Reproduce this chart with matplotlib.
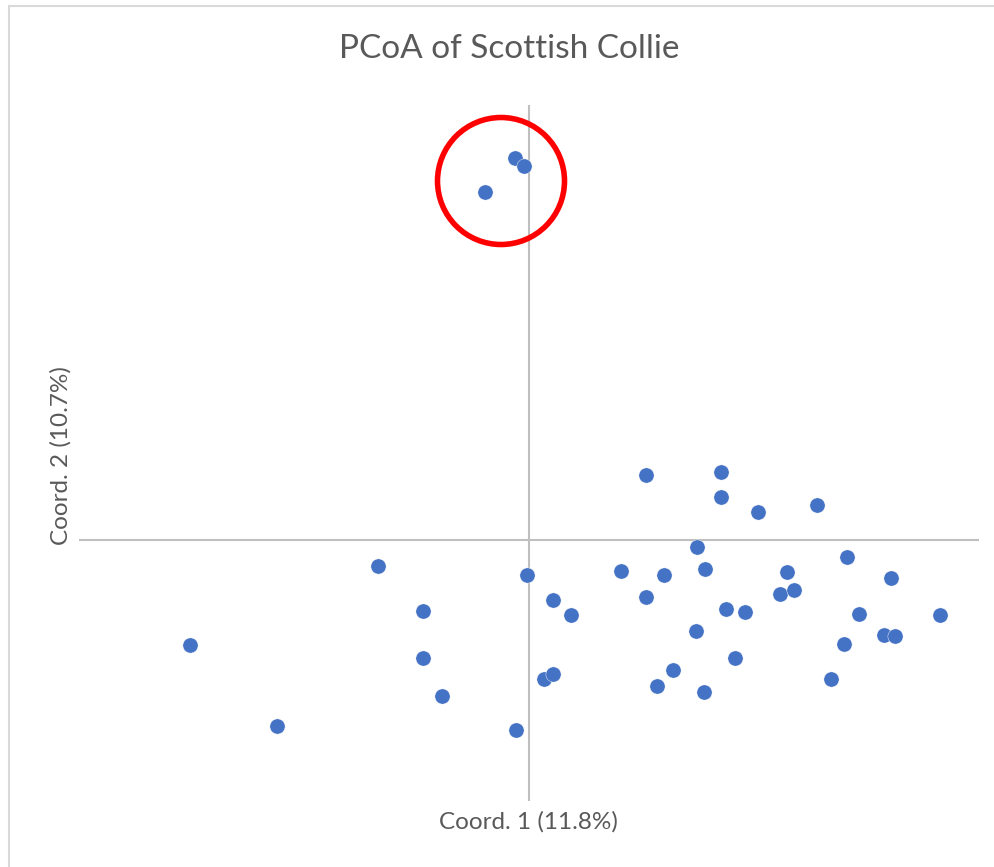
import matplotlib.pyplot as plt
from matplotlib.patches import Ellipse, Rectangle

# PCoA coordinates
coord1 = [-0.14, -0.05, -0.44, -3.39, -2.52, -1.51, -1.06, -1.06, -0.87, -0.13,
          -0.02, 0.24, 0.15, 0.24, 0.42, 1.17, 1.92, 1.92, 2.29, 2.88,
          1.68, 0.92, 1.35, 1.76, 1.17, 2.58, 3.18, 3.62, 2.51, 2.65,
          1.97, 2.16, 3.30, 4.11, 1.67, 3.55, 3.66, 3.15, 2.06, 1.44,
          1.28, 1.75, 3.02]
coord2 = [3.81, 3.73, 3.47, -1.05, -1.86, -0.26, -0.71, -1.18, -1.56, -1.90,
          -0.35, -0.60, -1.39, -1.34, -0.75, 0.65, 0.68, 0.43, 0.28, 0.35,
          -0.07, -0.31, -0.35, -0.29, -0.57, -0.32, -0.17, -0.38, -0.54, -0.50,
          -0.69, -0.72, -0.74, -0.75, -0.91, -0.95, -0.96, -1.04, -1.18, -1.30,
          -1.46, -1.52, -1.39]

# outlier group highlighted in the chart
circle_center = (-0.28, 3.585)
circle_radius = 0.635

W, H = 995, 867
fig = plt.figure(figsize=(W / 100, H / 100), dpi=100)
fig.patch.set_facecolor('white')

# chart area border (left and top edges visible)
fig.add_artist(Rectangle((8.7 / W, -0.1), 1.2, 1.1 - 6 / H, transform=fig.transFigure,
                         fill=False, edgecolor='#D9D9D9', lw=1.5))

ax = fig.add_axes([79 / W, 1 - 800.7 / H, 900 / W, (800.7 - 105) / H])
ax.set_xlim(-4.5, 4.5)
ax.set_ylim(-2.612, 4.345)
for s in ax.spines.values():
    s.set_visible(False)
ax.set_xticks([])
ax.set_yticks([])

ax.axhline(0, color='#BFBFBF', lw=1.5, zorder=1)
ax.axvline(0, color='#BFBFBF', lw=1.5, zorder=1)

ax.scatter(coord1, coord2, s=120, color='#4472C4', edgecolors='white', linewidths=0.3, zorder=3)

ax.add_patch(Ellipse(circle_center, 2 * circle_radius, 2 * circle_radius,
                     fill=False, edgecolor='#FF0000', lw=4, zorder=4))

font = 'Lato'
fig.text(509 / W, 1 - 49 / H, 'PCoA of Scottish Collie', ha='center', va='center',
         fontsize=24, color='#595959', family=font)
fig.text(528 / W, 1 - 822 / H, 'Coord. 1 (11.8%)', ha='center', va='center',
         fontsize=17.5, color='#595959', family=font)
fig.text(61 / W, 1 - 456 / H, 'Coord. 2 (10.7%)', ha='center', va='center', rotation=90,
         fontsize=17.5, color='#595959', family=font)

fig.savefig('out.png', dpi=100)
